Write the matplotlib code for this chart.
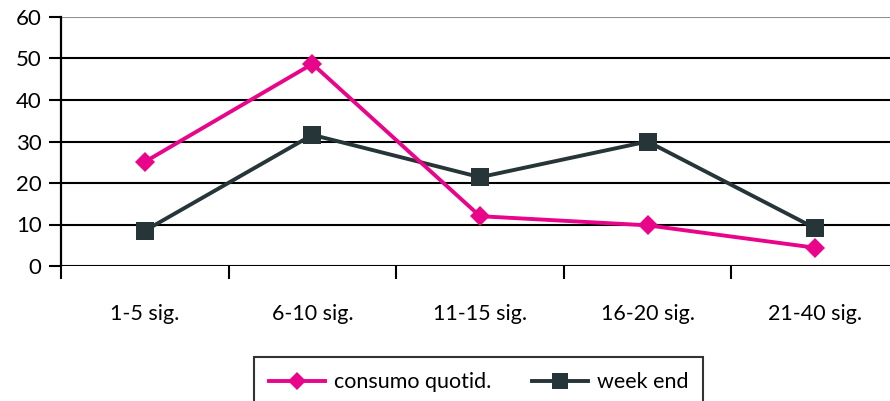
import matplotlib
matplotlib.use("Agg")
import matplotlib.pyplot as plt
from matplotlib.ticker import FixedLocator

categories = ["1-5 sig.", "6-10 sig.", "11-15 sig.", "16-20 sig.", "21-40 sig."]
consumo_quotid = [25.1, 48.7, 12.0, 9.8, 4.4]
week_end = [8.5, 31.6, 21.4, 30.0, 9.1]
y_ticks = [0, 10, 20, 30, 40, 50, 60]

PINK = "#E8058A"
DARK = "#263538"

plt.rcParams["font.family"] = ["Lato", "DejaVu Sans"]

W, H = 890, 401
fig = plt.figure(figsize=(W / 100, H / 100), dpi=100)
left, right, top, bottom = 61, 899, 17, 266
ax = fig.add_axes([left / W, 1 - bottom / H, (right - left) / W, (bottom - top) / H])

x = list(range(len(categories)))
ax.plot(x, consumo_quotid, color=PINK, lw=2.8, marker="D", ms=10.5,
        markeredgewidth=0, label="consumo quotid.", zorder=4)
ax.plot(x, week_end, color=DARK, lw=2.8, marker="s", ms=12.5,
        markeredgewidth=0, label="week end", zorder=3)

ax.set_xlim(-0.5, len(categories) - 0.5)
ax.set_ylim(0, 60)
ax.set_yticks(y_ticks)
ax.set_xticks(x)
ax.set_xticklabels(categories)
ax.xaxis.set_minor_locator(FixedLocator([i - 0.5 for i in range(len(categories) + 1)]))
ax.tick_params(axis="x", which="major", length=0, pad=27, labelsize=15.5)
ax.tick_params(axis="x", which="minor", length=9, width=1.5, direction="out", color="black")
ax.tick_params(axis="y", length=9, width=1.5, direction="out", labelsize=16, pad=5)

for v in y_ticks:
    ax.axhline(v, color="#8a9090" if v == 60 else "black", lw=1.5, zorder=1)

for s in ["top", "right", "bottom"]:
    ax.spines[s].set_visible(False)
ax.spines["left"].set_linewidth(1.6)
ax.spines["left"].set_color("black")

leg = fig.legend(loc="upper left", bbox_to_anchor=(254 / W, 1 - 357 / H),
                 ncol=2, fontsize=15.5, frameon=True, fancybox=False,
                 edgecolor="black", handlelength=2.6, handletextpad=0.4,
                 columnspacing=1.9, borderpad=0.7, borderaxespad=0,
                 markerscale=0.9)
leg.get_frame().set_linewidth(1.5)

fig.savefig("out.png", dpi=100)
